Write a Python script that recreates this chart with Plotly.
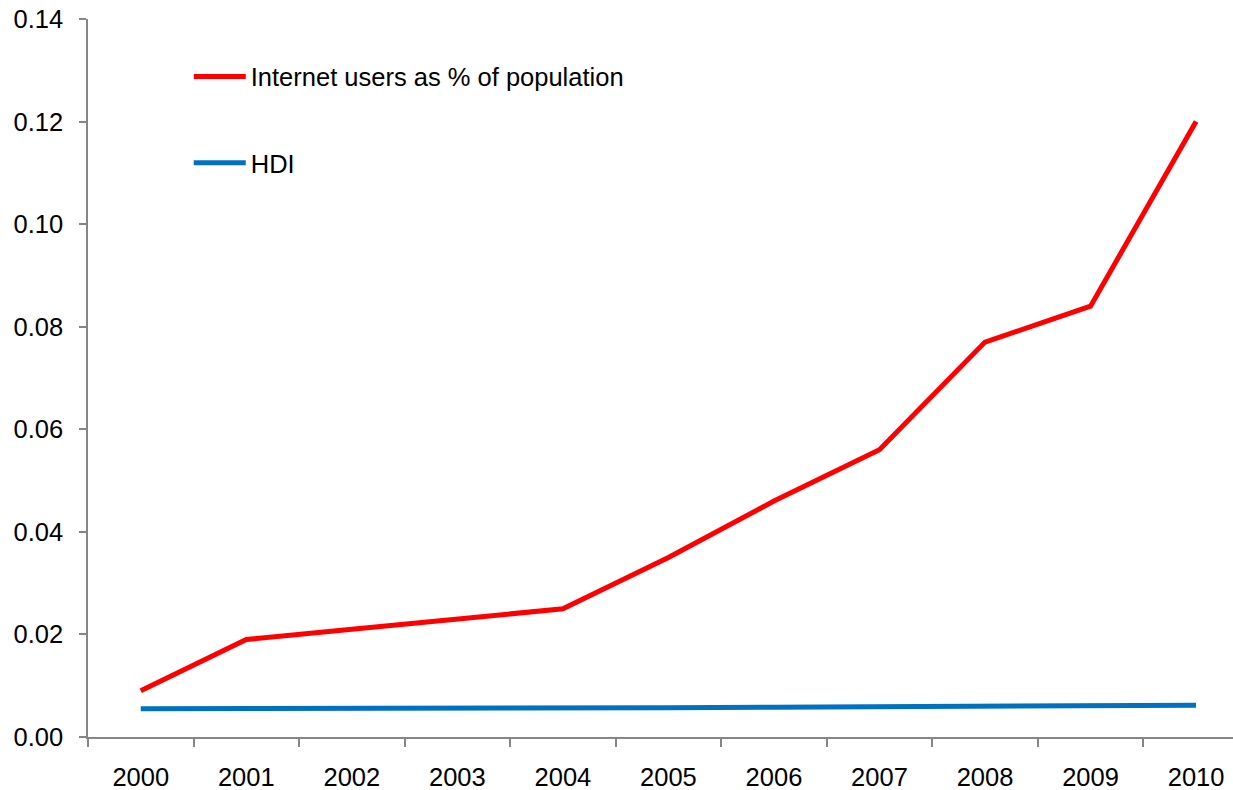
import plotly.graph_objects as go

years = ["2000", "2001", "2002", "2003", "2004", "2005", "2006", "2007", "2008", "2009", "2010"]
internet = [0.009, 0.019, 0.021, 0.023, 0.025, 0.035, 0.046, 0.056, 0.077, 0.084, 0.120]
hdi = [0.0055, 0.0055, 0.0055, 0.0055, 0.0055, 0.0057, 0.0058, 0.0059, 0.0060, 0.0061, 0.0062]
y_ticks = [0.00, 0.02, 0.04, 0.06, 0.08, 0.10, 0.12, 0.14]

fig = go.Figure()
fig.add_trace(go.Scatter(x=years, y=internet, mode="lines", name="Internet users as % of population",
                         line=dict(color="#FF0000", width=5), legendgroup="a"))
fig.add_trace(go.Scatter(x=years, y=hdi, mode="lines", name="HDI",
                         line=dict(color="#0070C0", width=5), legendgroup="b"))

axis_color = "#868686"
fs = 25.5
fig.update_layout(
    width=1233, height=790,
    margin=dict(l=88, r=0, t=19, b=53),
    paper_bgcolor="white", plot_bgcolor="white",
    font=dict(family="Liberation Sans, Arial, sans-serif", size=fs, color="black"),
    showlegend=True,
    legend=dict(x=0.088, y=0.952, xanchor="left", yanchor="top", bgcolor="rgba(0,0,0,0)",
                tracegroupgap=50, traceorder="grouped", font=dict(size=fs), itemwidth=52),
    xaxis=dict(type="category", range=[-0.5, 10.35], showline=True, linecolor=axis_color, linewidth=1.5,
               ticks="outside", tickson="boundaries", ticklen=8, tickcolor=axis_color, tickwidth=1.5,
               showgrid=False, zeroline=False, tickfont=dict(size=fs), ticklabelstandoff=17),
    yaxis=dict(range=[0, 0.14], tickvals=y_ticks, ticktext=[f"{v:.2f}" for v in y_ticks],
               showline=True, linecolor=axis_color, linewidth=1.5, ticks="outside", ticklen=7,
               tickcolor=axis_color, tickwidth=1.5, showgrid=False, zeroline=False, tickfont=dict(size=fs),
               ticklabelstandoff=11),
)

fig.write_html("out.html")
